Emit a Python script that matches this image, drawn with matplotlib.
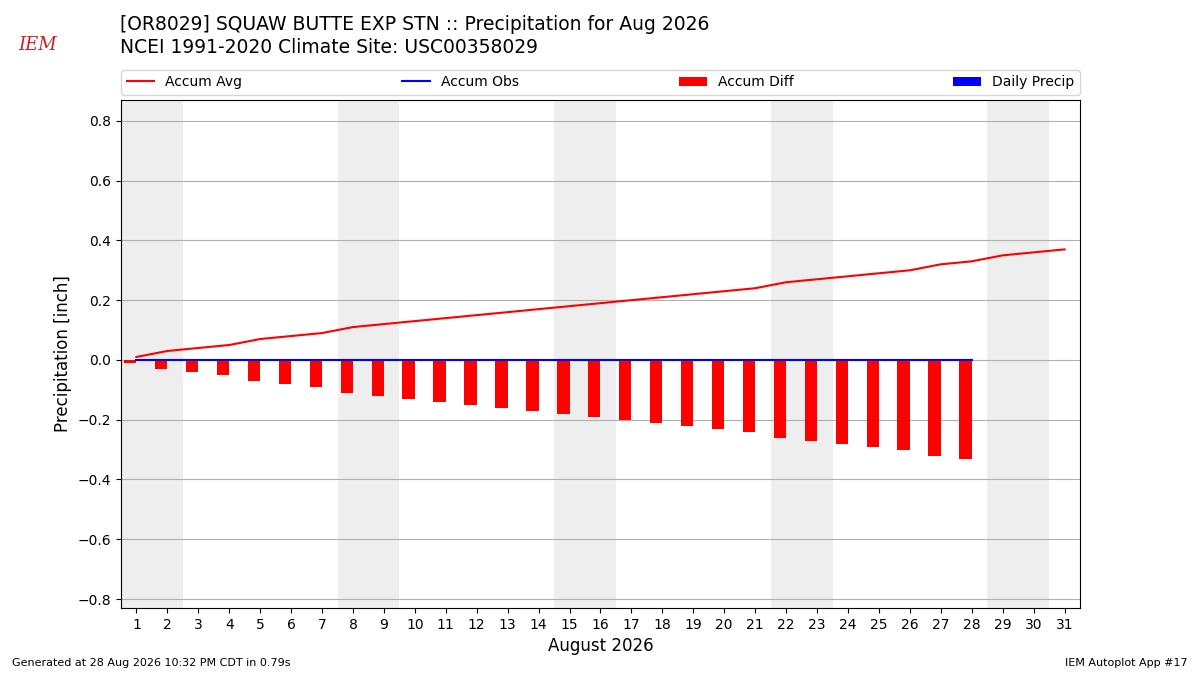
import numpy as np
import matplotlib
matplotlib.use("Agg")
import matplotlib.pyplot as plt

# -----------------------------
# Data
# -----------------------------
days = list(range(1, 32))
accum_avg = [0.01, 0.03, 0.04, 0.05, 0.07, 0.08, 0.09, 0.11, 0.12, 0.13,
             0.14, 0.15, 0.16, 0.17, 0.18, 0.19, 0.20, 0.21, 0.22, 0.23,
             0.24, 0.26, 0.27, 0.28, 0.29, 0.30, 0.32, 0.33, 0.35, 0.36,
             0.37]
obs_days = list(range(1, 29))
accum_obs = [0.0] * 28
daily_precip = [0.0] * 28
accum_diff = [o - a for o, a in zip(accum_obs, accum_avg[:28])]
weekends = [(1, 2), (8, 9), (15, 16), (22, 23), (29, 30)]

# -----------------------------
# Figure
# -----------------------------
fig = plt.figure(figsize=(12, 6.75), dpi=100)
ax = fig.add_axes([0.1008, 0.0993, 0.7992, 0.7526])

for start, end in weekends:
    ax.axvspan(start - 0.5, end + 0.5, color="#eeeeee", zorder=0, lw=0)

ax.grid(axis="y", color="#b0b0b0", zorder=1)
ax.set_axisbelow(True)

ax.plot(days, accum_avg, color="r", lw=1.5, label="Accum Avg", zorder=3)
ax.plot(obs_days, accum_obs, color="b", lw=1.5, label="Accum Obs", zorder=4)
ax.bar(obs_days, accum_diff, width=-0.4, align="edge", color="r",
       label="Accum Diff", zorder=2)
ax.bar(obs_days, daily_precip, width=0.4, align="edge", color="b",
       label="Daily Precip", zorder=2)

ax.set_xlim(0.5, 31.5)
ax.set_ylim(-0.83, 0.87)
ax.set_xticks(days)
ax.set_yticks(np.arange(-0.8, 0.81, 0.2))
ax.tick_params(labelsize=10)
ax.set_xlabel("August 2026", fontsize=12)
ax.set_ylabel("Precipitation [inch]", fontsize=12)

ax.legend(loc="lower left", bbox_to_anchor=(0, 1.01, 1, 0.05), ncol=4,
          mode="expand", fontsize=10, borderaxespad=0)

fig.text(0.1, 0.963, "[OR8029] SQUAW BUTTE EXP STN :: Precipitation for Aug 2026",
         fontsize=13.5, va="center")
fig.text(0.1, 0.929, "NCEI 1991-2020 Climate Site: USC00358029",
         fontsize=13.5, va="center")
fig.text(0.031, 0.933, "IEM", color="#d02020", fontsize=13, style="italic",
         family="serif", va="center", ha="center")

fig.text(0.01, 0.013, "Generated at 28 Aug 2026 10:32 PM CDT in 0.79s", fontsize=8)
fig.text(0.99, 0.013, "IEM Autoplot App #17", fontsize=8, ha="right")

fig.savefig("out.png")
